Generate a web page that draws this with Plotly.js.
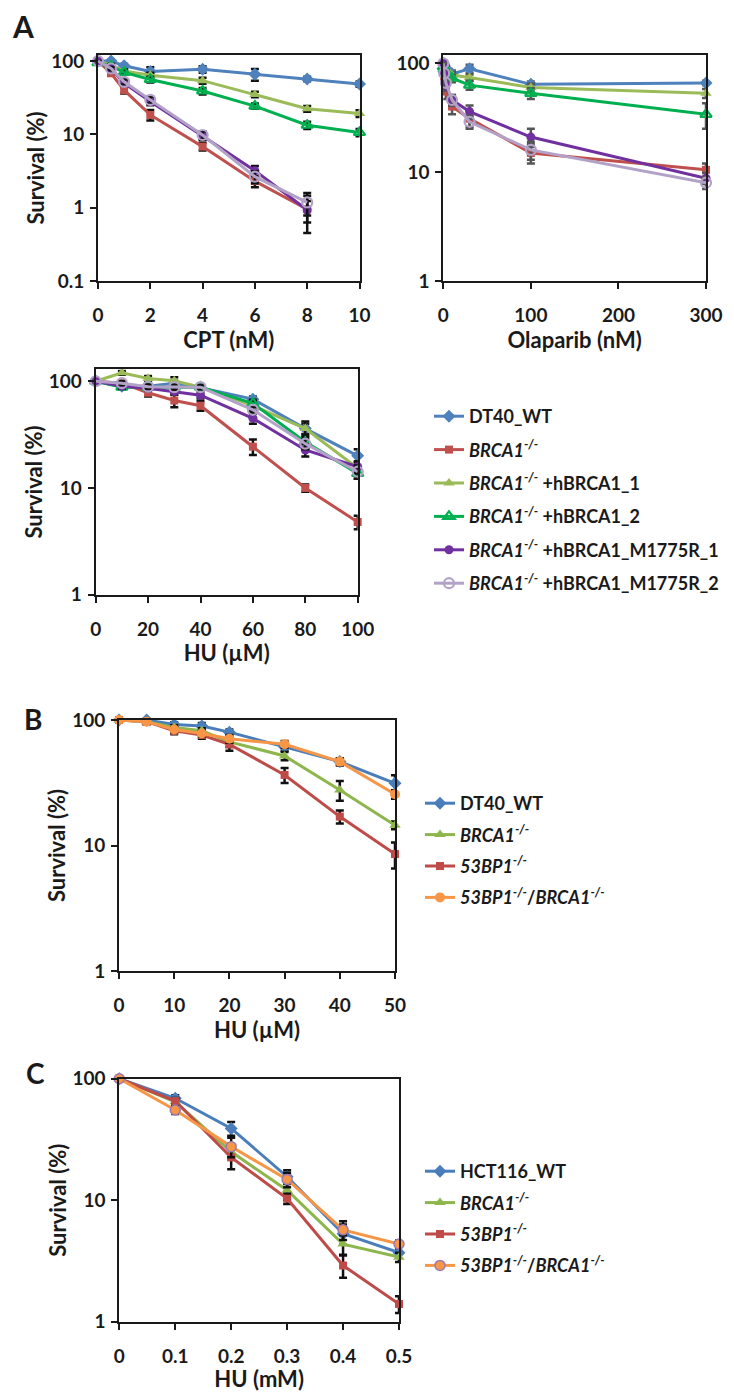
<!DOCTYPE html>
<html>
<head>
<meta charset="utf-8">
<script src="https://cdn.plot.ly/plotly-3.0.1.min.js"></script>
<style>
  html, body { margin: 0; padding: 0; background: #fff; }
  #chart { width: 734px; height: 1392px; }
</style>
</head>
<body>
<div id="chart"></div>
<script>
/* Survival curves, panels A (CPT / Olaparib / HU), B and C (HU) */

// ---- Panel A: CPT (nM)
const cptDose = [0, 0.5, 1, 2, 4, 6, 8, 10];
const cptWT = [100, 100, 86, 72, 77, 66, 57, 48.5];
const cptBrca1 = [100, 68, 40, 18.4, 6.8, 2.3, 0.95];
const cptH1 = [100, 88, 73, 64, 54, 35, 22.4, 19.3];
const cptH2 = [95, 85, 70, 56, 39, 24.3, 13.3, 10.6];
const cptM1 = [100, 79, 50, 28, 9.5, 3.2, 0.93];
const cptM2 = [100, 79, 52, 29.5, 9.8, 2.65, 1.18];
const cptWTErr = [0, 3, 5, 10, 8, 12, 4, 4];
const cptBrca1Err = [0, 5, 4, 3, 0.8, 0.4, 0.5];
const cptH1Err = [0, 4, 4, 5, 5, 3, 2, 2];
const cptH2Err = [0, 5, 5, 5, 4, 2, 1.5, 1.2];
const cptM1Err = [0, 4, 4, 3, 1.2, 0.5, 0.3];
const cptM2Err = [0, 4, 4, 3, 1.2, 0.5, 0.4];

// ---- Panel A: Olaparib (nM)
const olaDose = [0, 1, 3, 10, 30, 100, 300];
const olaWT = [100, 95, 90, 80, 89, 64, 66];
const olaBrca1 = [100, 75, 55, 40, 31, 15, 10.5];
const olaH1 = [100, 95, 90, 78, 74, 60, 53];
const olaH2 = [93, 88, 82, 73, 63, 53, 34];
const olaM1 = [100, 82, 62, 46, 36, 21, 8.8];
const olaM2 = [100, 81, 66, 46, 29, 16, 8];
const olaWTErr = [0, 5, 5, 6, 8, 4, 3];
const olaBrca1Err = [0, 6, 8, 6, 5, 3, 1.5];
const olaH1Err = [0, 5, 5, 5, 5, 5, 5];
const olaH2Err = [0, 5, 5, 6, 6, 6, 9];
const olaM1Err = [0, 6, 6, 5, 5, 4, 1];
const olaM2Err = [0, 6, 6, 5, 4, 3, 1];

// ---- Panel A: HU (uM)
const huADose = [0, 10, 20, 30, 40, 60, 80, 100];
const huAWT = [100, 90, 90, 96, 87, 68, 36, 20];
const huABrca1 = [100, 96, 78, 66, 59, 24.4, 10, 4.8];
const huAH1 = [100, 120, 106, 101, 88, 59, 36, 15.3];
const huAH2 = [100, 88, 88, 88, 88, 62, 27, 13.7];
const huAM1 = [100, 90, 86, 80, 74, 45, 22.7, 15.8];
const huAM2 = [100, 96, 89, 88, 88, 54, 26, 14.2];
const huAWTErr = [0, 4, 4, 5, 4, 4, 4, 3];
const huABrca1Err = [0, 5, 6, 9, 6, 4, 0.8, 0.7];
const huAH1Err = [0, 5, 6, 8, 4, 6, 6, 2];
const huAH2Err = [0, 4, 4, 5, 4, 5, 4, 1.5];
const huAM1Err = [0, 5, 4, 5, 5, 5, 3, 2];
const huAM2Err = [0, 4, 4, 5, 4, 4, 3, 2];

// ---- Panel B: HU (uM), DT40
const huBDose = [0, 5, 10, 15, 20, 30, 40, 50];
const huBWT = [100, 100, 92, 89.5, 80, 61, 46.6, 31.3];
const huBBrca1 = [100, 97, 87, 82, 67, 51.7, 27.7, 14.5];
const huB53bp1 = [100, 97, 82, 76, 64, 36.5, 17, 8.55];
const huBDouble = [100, 97, 84, 78, 71, 64, 46.6, 25.6];
const huBWTErr = [0, 3, 4, 5, 4, 4, 3, 5];
const huBBrca1Err = [0, 3, 4, 4, 6, 4, 5, 1];
const huB53bp1Err = [0, 5, 5, 5, 7, 5, 2, 2];
const huBDoubleErr = [0, 3, 4, 4, 5, 4, 3, 2];

// ---- Panel C: HU (mM), HCT116
const huCDose = [0, 0.1, 0.2, 0.3, 0.4, 0.5];
const huCWT = [100, 69, 39, 15.6, 5.3, 3.7];
const huCBrca1 = [100, 64.6, 25, 12.1, 4.35, 3.4];
const huC53bp1 = [100, 65.5, 22.5, 10.3, 2.9, 1.4];
const huCDouble = [100, 55.2, 27.6, 14.8, 5.7, 4.35];
const huCWTErr = [0, 4, 5, 2, 1, 0.3];
const huCBrca1Err = [0, 4, 3, 2, 0.8, 0.3];
const huC53bp1Err = [0, 4, 4.5, 1, 0.6, 0.22];
const huCDoubleErr = [0, 4, 5, 2, 1, 0.3];

const W = 734, H = 1392;
const px = v => v / W;          // pixel -> paper x
const py = v => 1 - v / H;      // pixel -> paper y
const FONT = 'Lato, "Open Sans", sans-serif';
const INK = '#1a1a1a';

const ko = '<i>BRCA1<sup>-/-</sup></i>';
const ko53 = '<i>53BP1<sup>-/-</sup></i>';

// style of each series (panel A)
const stylesA = [
  {name: 'DT40_WT', color: '#4F81BD', symbol: 'diamond', size: 10},
  {name: ko, color: '#C0504D', symbol: 'square', size: 8},
  {name: ko + ' +hBRCA1_1', color: '#9BBB59', symbol: 'triangle-up', size: 10},
  {name: ko + ' +hBRCA1_2', color: '#00B050', symbol: 'triangle-up-open', size: 10},
  {name: ko + ' +hBRCA1_M1775R_1', color: '#7030A0', symbol: 'circle', size: 9},
  {name: ko + ' +hBRCA1_M1775R_2', color: '#B3A2C7', symbol: 'circle-open', size: 10},
];
const stylesB = [
  {name: 'DT40_WT', color: '#4A7EBB', symbol: 'diamond', size: 10},
  {name: ko, color: '#8DB64C', symbol: 'triangle-up', size: 10},
  {name: ko53, color: '#BE4B48', symbol: 'square', size: 8},
  {name: ko53 + '/' + ko, color: '#F79646', symbol: 'circle', size: 10},
];
const stylesC = [
  {name: 'HCT116_WT', color: '#4A7EBB', symbol: 'diamond', size: 10},
  {name: ko, color: '#8DB64C', symbol: 'triangle-up', size: 10},
  {name: ko53, color: '#BE4B48', symbol: 'square', size: 8},
  {name: ko53 + '/' + ko, color: '#F79646', symbol: 'circle', size: 10, outline: '#9B7BB0'},
];

function curve(x, y, err, st, axis, legend, group, showlegend, errColor) {
  const open = st.symbol.endsWith('-open');
  return {
    type: 'scatter',
    mode: 'lines+markers',
    x: x,
    y: y,
    name: st.name,
    xaxis: 'x' + axis,
    yaxis: 'y' + axis,
    legend: legend,
    legendgroup: group,
    showlegend: showlegend,
    cliponaxis: false,
    line: {color: st.color, width: 3},
    marker: {
      symbol: st.symbol,
      size: st.size,
      color: st.color,
      line: {width: open ? 2.2 : (st.outline ? 1.5 : 0), color: st.outline || st.color},
    },
    error_y: {type: 'data', array: err, visible: true, color: errColor, thickness: 2.5, width: 4},
  };
}

const dataA = [
  [cptWT, cptWTErr, olaWT, olaWTErr, huAWT, huAWTErr],
  [cptBrca1, cptBrca1Err, olaBrca1, olaBrca1Err, huABrca1, huABrca1Err],
  [cptH1, cptH1Err, olaH1, olaH1Err, huAH1, huAH1Err],
  [cptH2, cptH2Err, olaH2, olaH2Err, huAH2, huAH2Err],
  [cptM1, cptM1Err, olaM1, olaM1Err, huAM1, huAM1Err],
  [cptM2, cptM2Err, olaM2, olaM2Err, huAM2, huAM2Err],
];
const dataB = [
  [huBWT, huBWTErr], [huBBrca1, huBBrca1Err], [huB53bp1, huB53bp1Err], [huBDouble, huBDoubleErr],
];
const dataC = [
  [huCWT, huCWTErr], [huCBrca1, huCBrca1Err], [huC53bp1, huC53bp1Err], [huCDouble, huCDoubleErr],
];

let traces = [];
stylesA.forEach((st, i) => {
  const d = dataA[i];
  traces.push(curve(cptDose.slice(0, d[0].length), d[0], d[1], st, '', 'legend', 'a' + i, false, '#111'));
  traces.push(curve(olaDose, d[2], d[3], st, '2', 'legend', 'a' + i, false, '#555'));
  traces.push(curve(huADose, d[4], d[5], st, '3', 'legend', 'a' + i, true, '#111'));
});
stylesB.forEach((st, i) => {
  traces.push(curve(huBDose, dataB[i][0], dataB[i][1], st, '4', 'legend2', 'b' + i, true, '#111'));
});
stylesC.forEach((st, i) => {
  traces.push(curve(huCDose, dataC[i][0], dataC[i][1], st, '5', 'legend3', 'c' + i, true, '#111'));
});

/*
  Axes
*/
function xAxis(l, r, range, dtick, title, anchor) {
  return {
    domain: [px(l), px(r)],
    anchor: anchor,
    range: range,
    dtick: dtick,
    tick0: 0,
    showgrid: false,
    zeroline: false,
    showline: true,
    mirror: true,
    linecolor: INK,
    linewidth: 2,
    ticks: 'outside',
    ticklen: 6,
    tickwidth: 2,
    tickcolor: INK,
    ticklabelstandoff: 10,
    tickfont: {family: FONT, size: 19, color: INK, weight: 700},
    title: {text: title, standoff: 0, font: {family: FONT, size: 22, color: INK, weight: 700}},
  };
}
function yAxis(t, b, range, tickvals, title, anchor) {
  const ax = {
    domain: [py(b), py(t)],
    anchor: anchor,
    type: 'log',
    range: range,
    tickvals: tickvals,
    ticktext: tickvals.map(String),
    showgrid: false,
    zeroline: false,
    showline: true,
    mirror: true,
    linecolor: INK,
    linewidth: 2,
    ticks: 'outside',
    ticklen: 6,
    tickwidth: 2,
    tickcolor: INK,
    ticklabelstandoff: 2,
    tickfont: {family: FONT, size: 19, color: INK, weight: 700},
  };
  if (title) {
    ax.title = {text: title, standoff: 0, font: {family: FONT, size: 22, color: INK, weight: 700}};
  }
  return ax;
}

function legendBox(left, top, gap) {
  return {
    x: px(left),
    y: py(top),
    xanchor: 'left',
    yanchor: 'top',
    bgcolor: 'rgba(0,0,0,0)',
    tracegroupgap: gap,
    font: {family: FONT, size: 18, color: INK, weight: 700},
  };
}

const letter = (txt, x, y, size) => ({
  text: txt, x: px(x), y: py(y), xref: 'paper', yref: 'paper',
  showarrow: false, xanchor: 'center', yanchor: 'middle',
  font: {family: FONT, size: size, color: INK, weight: 700},
});

const layout = {
  width: W,
  height: H,
  autosize: false,
  margin: {l: 0, r: 0, t: 0, b: 0},
  paper_bgcolor: '#fff',
  plot_bgcolor: '#fff',
  font: {family: FONT, color: INK},

  xaxis: xAxis(98, 359.5, [0, 10], 2, 'CPT (nM)', 'y'),
  yaxis: yAxis(55, 281, [-1, 2.082], [0.1, 1, 10, 100], 'Survival (%)', 'x'),
  xaxis2: xAxis(443.3, 706, [0, 300], 100, 'Olaparib (nM)', 'y2'),
  yaxis2: yAxis(55, 281, [0, 2.076], [1, 10, 100], '', 'x2'),
  xaxis3: xAxis(95.7, 357.7, [0, 100], 20, 'HU (µM)', 'y3'),
  yaxis3: yAxis(369.3, 594.7, [0, 2.112], [1, 10, 100], 'Survival (%)', 'x3'),
  xaxis4: xAxis(119, 395, [0, 50], 10, 'HU (µM)', 'y4'),
  yaxis4: yAxis(720, 971, [0, 2], [1, 10, 100], 'Survival (%)', 'x4'),
  xaxis5: xAxis(119.3, 399, [0, 0.5], 0.1, 'HU (mM)', 'y5'),
  yaxis5: yAxis(1078.7, 1321.7, [0, 2], [1, 10, 100], 'Survival (%)', 'x5'),

  legend: legendBox(429, 398, 7),
  legend2: legendBox(420, 785, 5),
  legend3: legendBox(420, 1153, 5),

  annotations: [
    letter('A', 23, 26, 30),
    letter('B', 33, 719, 28),
    letter('C', 35, 1073, 28),
  ],
};

Plotly.newPlot('chart', traces, layout, {displayModeBar: false, staticPlot: true});
</script>
</body>
</html>
